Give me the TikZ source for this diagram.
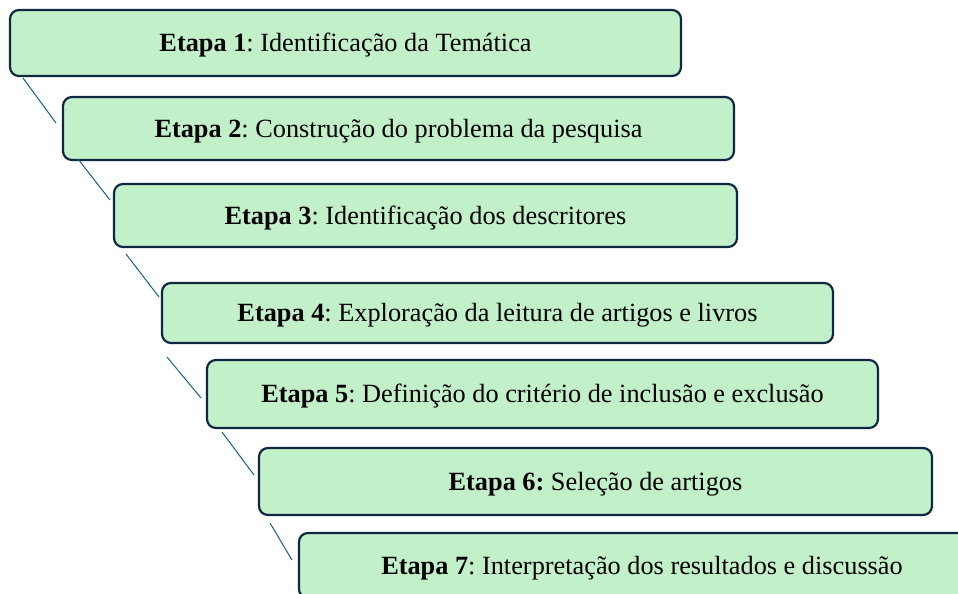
\documentclass[tikz,border=0pt]{standalone}
\usepackage{fontspec}
\setmainfont{Liberation Serif}
\usetikzlibrary{calc}
\definecolor{boxfill}{HTML}{C2F0C8}
\definecolor{boxline}{HTML}{0E2841}
\definecolor{linkcol}{HTML}{156082}
\begin{document}
\frenchspacing
\begin{tikzpicture}[x=1pt,y=-1pt,
  stagebox/.style={draw=boxline, line width=2.2pt, fill=boxfill, rounded corners=9pt,
    inner sep=0pt, outer sep=0pt, align=center, text height=17pt, text depth=0pt,
    font=\fontsize{26.3}{30}\selectfont},
  link/.style={draw=linkcol, line width=1pt}]
\useasboundingbox (0,0) rectangle (958,594);
\clip (0,0) rectangle (958,594);
\node[stagebox, minimum width=671pt, minimum height=66pt] (b1) at (345.5,43) {\textbf{Etapa 1}: Identificação da Temática};
\node[stagebox, minimum width=671pt, minimum height=63pt] (b2) at (398.5,128.5) {\textbf{Etapa 2}: Construção do problema da pesquisa};
\node[stagebox, minimum width=623pt, minimum height=63pt] (b3) at (425.5,215.5) {\textbf{Etapa 3}: Identificação dos descritores};
\node[stagebox, minimum width=671pt, minimum height=60pt] (b4) at (497.5,313) {\textbf{Etapa 4}: Exploração da leitura de artigos e livros};
\node[stagebox, minimum width=671pt, minimum height=68pt] (b5) at (542.5,394) {\textbf{Etapa 5}: Definição do critério de inclusão e exclusão};
\node[stagebox, minimum width=673pt, minimum height=67pt] (b6) at (595.5,481.5) {\textbf{Etapa 6:} Seleção de artigos};
\node[stagebox, minimum width=686pt, minimum height=65pt] (b7) at (642,565.5) {\textbf{Etapa 7}: Interpretação dos resultados e discussão};
\draw[link] ($(b1.south west)+(13,2)$) -- ($(b2.west)+(-7,-5.5)$);
\draw[link] ($(b2.south west)+(15,-1)$) -- ($(b3.west)+(-4,-15.5)$);
\draw[link] ($(b3.south west)+(12,7)$) -- ($(b4.west)+(-3,-16)$);
\draw[link] ($(b4.south west)+(5,14)$) -- ($(b5.west)+(-6,4)$);
\draw[link] ($(b5.south west)+(15,4)$) -- ($(b6.west)+(-5,-6.5)$);
\draw[link] ($(b6.south west)+(11,8)$) -- ($(b7.west)+(-7,-5.5)$);
\end{tikzpicture}
\end{document}
